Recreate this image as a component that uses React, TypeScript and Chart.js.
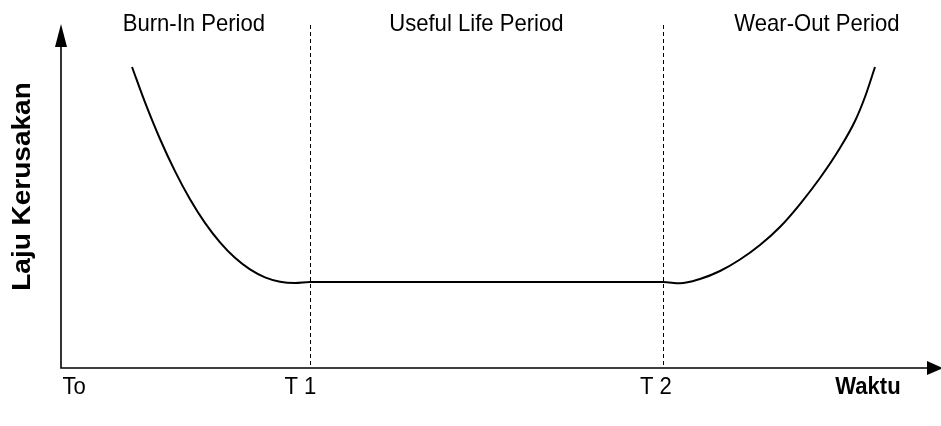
import React, { useEffect, useRef } from "react";
import { Chart, registerables } from "chart.js";

Chart.register(...registerables);

// Time (x) and failure rate (y) values of the bathtub curve, in chart units (0-100)
const timeValues = [
  8.07, 9.55, 11.25, 12.95, 14.66, 16.36, 18.07, 19.77, 21.48, 23.18, 24.89, 26.59, 28.3,
  68.41, 70.34, 72.61, 74.89, 77.16, 79.43, 81.7, 83.98, 86.25, 88.52, 90.23, 91.36, 92.5,
];
const rateValues = [
  87.76, 77.43, 66.76, 57.41, 49.21, 42.33, 36.65, 32.13, 28.75, 26.44, 25.16, 24.78, 25.07,
  25.07, 24.69, 25.95, 28.28, 31.63, 35.86, 41.11, 47.81, 55.39, 64.14, 72.01, 79.01, 87.76,
];

// Phase boundaries T1, T2
const phaseBoundaries = [28.3, 68.41];
const phaseLabels = ["Burn-In Period", "Useful Life Period", "Wear-Out Period"];
const phaseLabelPositions = [15.1, 47.2, 85.9];

// X tick labels
const tickLabels = ["To", "T 1", "T 2", "Waktu"];
const tickPositions = [1.5, 27.2, 67.6, 91.7];
const tickBold = [false, false, false, true];

const yTitle = "Laju Kerusakan";

const FONT = "'Liberation Sans', Arial, Helvetica, sans-serif";
const SX = 0.92;

function drawText(ctx: CanvasRenderingContext2D, text: string, x: number, y: number, font: string) {
  ctx.save();
  ctx.font = font;
  ctx.fillStyle = "#000";
  ctx.textAlign = "center";
  ctx.textBaseline = "alphabetic";
  ctx.translate(x, y);
  ctx.scale(SX, 1);
  ctx.fillText(text, 0, 0);
  ctx.restore();
}

const decorPlugin = {
  id: "decor",
  beforeDatasetsDraw(chart: any) {
    const { ctx, chartArea, scales } = chart;
    const xs = scales.x;
    const left = chartArea.left;
    const top = chartArea.top;
    const bottom = chartArea.bottom;
    const right = chartArea.right;
    ctx.save();
    // dashed phase boundaries
    ctx.strokeStyle = "#000";
    ctx.lineWidth = 1;
    ctx.setLineDash([4, 3]);
    phaseBoundaries.forEach((v) => {
      const px = Math.round(xs.getPixelForValue(v)) + 0.5;
      ctx.beginPath();
      ctx.moveTo(px, top);
      ctx.lineTo(px, bottom);
      ctx.stroke();
    });
    ctx.setLineDash([]);
    // axes
    ctx.lineWidth = 1.6;
    ctx.beginPath();
    ctx.moveTo(left, top + 20);
    ctx.lineTo(left, bottom);
    ctx.lineTo(right - 12, bottom);
    ctx.stroke();
    // arrow heads
    ctx.fillStyle = "#000";
    ctx.beginPath();
    ctx.moveTo(left, top - 1);
    ctx.lineTo(left - 6, top + 22);
    ctx.lineTo(left + 6, top + 22);
    ctx.closePath();
    ctx.fill();
    ctx.beginPath();
    ctx.moveTo(right + 2, bottom);
    ctx.lineTo(right - 14, bottom - 7);
    ctx.lineTo(right - 14, bottom + 7);
    ctx.closePath();
    ctx.fill();
    ctx.restore();
  },
  afterDraw(chart: any) {
    const { ctx, chartArea, scales } = chart;
    const xs = scales.x;
    phaseLabels.forEach((t, i) => {
      drawText(ctx, t, xs.getPixelForValue(phaseLabelPositions[i]), 31, `24px ${FONT}`);
    });
    tickLabels.forEach((t, i) => {
      drawText(
        ctx,
        t,
        xs.getPixelForValue(tickPositions[i]),
        chartArea.bottom + 26,
        `${tickBold[i] ? "bold " : ""}24px ${FONT}`
      );
    });
    // y title
    ctx.save();
    ctx.font = `bold 28px ${FONT}`;
    ctx.fillStyle = "#000";
    ctx.textAlign = "center";
    ctx.textBaseline = "middle";
    ctx.translate(23, (chartArea.top + chartArea.bottom) / 2 - 10);
    ctx.scale(SX, 1);
    ctx.rotate(-Math.PI / 2);
    ctx.fillText(yTitle, 0, 0);
    ctx.restore();
  },
};

export default function App() {
  const ref = useRef<HTMLCanvasElement | null>(null);
  useEffect(() => {
    document.body.style.margin = "0";
    const canvas = ref.current;
    if (!canvas) return;
    const points = timeValues.map((x, i) => ({ x, y: rateValues[i] }));
    const chart = new Chart(canvas, {
      type: "line",
      data: {
        datasets: [
          {
            data: points,
            borderColor: "#000",
            borderWidth: 2,
            pointRadius: 0,
            fill: false,
            cubicInterpolationMode: "monotone",
          },
        ],
      },
      options: {
        animation: false,
        responsive: false,
        events: [],
        layout: { padding: { left: 61, right: 0, top: 25, bottom: 58 } },
        plugins: { legend: { display: false }, tooltip: { enabled: false } },
        scales: {
          x: { type: "linear", min: 0, max: 100, display: false },
          y: { type: "linear", min: 0, max: 100, display: false },
        },
      },
      plugins: [decorPlugin],
    } as any);
    return () => chart.destroy();
  }, []);
  return (
    <div style={{ position: "absolute", left: 0, top: 0, width: 941, height: 426, background: "#fff" }}>
      <canvas ref={ref} width={941} height={426} />
    </div>
  );
}
